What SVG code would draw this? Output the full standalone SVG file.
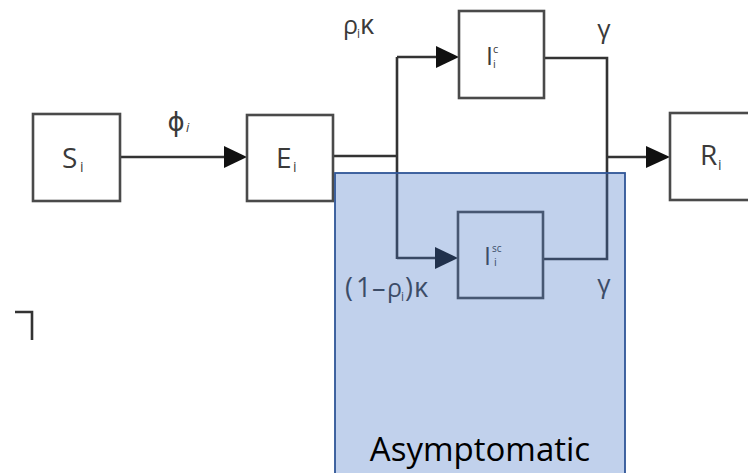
<svg xmlns="http://www.w3.org/2000/svg" width="748" height="473" viewBox="0 0 748 473">
<defs>
<style>
.box{fill:#fff;stroke:#4a4a4a;stroke-width:2.6}
.ln{fill:none;stroke:#333;stroke-width:2.6}
.lbl{font-family:"Open Sans","DejaVu Sans",sans-serif;fill:#3a3a3a}
.sub{font-family:"Open Sans","DejaVu Sans",sans-serif;fill:#3a3a3a}
</style>
</defs>
<rect width="748" height="473" fill="#fff"/>
<g id="connectors">
<path class="ln" d="M120,157 H236"/>
<path d="M224,146 L247,157 L224,168 Z" fill="#111"/>
<path class="ln" d="M333,156 H397 M397,57 V259"/>
<path class="ln" d="M397,57 H448"/>
<path d="M436,46 L459,57 L436,68 Z" fill="#111"/>
<path class="ln" d="M397,258 H448"/>
<path d="M435,247 L458,258 L435,269 Z" fill="#111"/>
<path class="ln" d="M544,58 H607 V259 H543"/>
<path class="ln" d="M607,157 H658"/>
<path d="M646,146 L670,157 L646,168 Z" fill="#111"/>
<path class="ln" d="M15,312 H32 V340"/>
<text class="lbl" x="176" y="131" font-size="26" text-anchor="middle">ϕ</text>
<text class="sub" x="186" y="132" font-size="13" font-style="italic">i</text>
<text class="lbl" x="343" y="34" font-size="25">ρ</text>
<text class="sub" x="357" y="38" font-size="12">i</text>
<text class="lbl" x="360" y="34" font-size="27">κ</text>
<text class="lbl" x="604" y="38" font-size="26" text-anchor="middle">γ</text>
<text class="lbl" x="604" y="293" font-size="26" text-anchor="middle">γ</text>
<text class="lbl" x="345" y="297" font-size="27">(</text>
<text class="lbl" x="356" y="297" font-size="27">1</text>
<text class="lbl" x="372" y="297" font-size="27">–</text>
<text class="lbl" x="387" y="297" font-size="25">ρ</text>
<text class="sub" x="401" y="301" font-size="12">i</text>
<text class="lbl" x="405" y="297" font-size="27">)</text>
<text class="lbl" x="414" y="297" font-size="27">κ</text>
</g>
<g id="node-S">
<rect class="box" x="33" y="114" width="87" height="87"/>
<text class="lbl" x="62" y="168" font-size="28">S</text>
<text class="sub" x="80" y="172" font-size="14">i</text>
</g>
<g id="node-E">
<rect class="box" x="247" y="115" width="86" height="86"/>
<text class="lbl" x="276" y="168" font-size="28">E</text>
<text class="sub" x="293" y="172" font-size="14">i</text>
</g>
<g id="node-Ic">
<rect class="box" x="459" y="11" width="85" height="87"/>
<text class="lbl" x="486" y="65" font-size="25">I</text>
<text class="sub" x="493" y="53" font-size="11">c</text>
<text class="sub" x="493" y="68" font-size="11">i</text>
</g>
<g id="node-Isc">
<rect class="box" x="458" y="212" width="85" height="86"/>
<text class="lbl" x="484" y="265" font-size="25">I</text>
<text class="sub" x="492" y="252" font-size="10">sc</text>
<text class="sub" x="494" y="266" font-size="11">i</text>
</g>
<g id="node-R">
<rect class="box" x="670" y="113" width="100" height="87"/>
<text class="lbl" x="700" y="165" font-size="28">R</text>
<text class="sub" x="718" y="170" font-size="14">i</text>
</g>
<g id="region-asymptomatic">
<rect x="335" y="173" width="290" height="310" fill="#4472c4" fill-opacity="0.33" stroke="#2f5597" stroke-width="1.8"/>
<text x="480" y="461" font-family="'Open Sans','Liberation Sans',sans-serif" font-size="33" text-anchor="middle" fill="#000">Asymptomatic</text>
</g>
</svg>
